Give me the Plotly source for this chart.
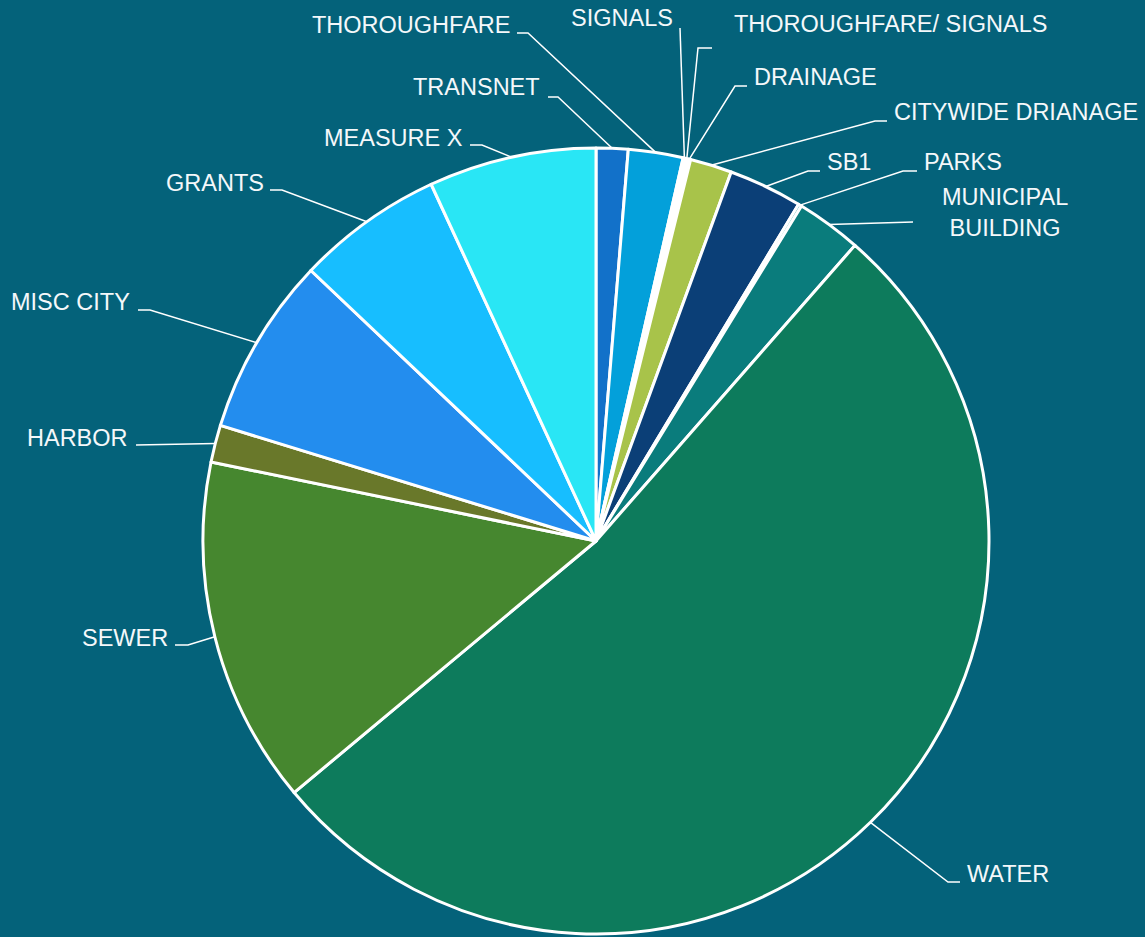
import math
import plotly.graph_objects as go

# ---- data (share of total, %) ----
categories = ["TRANSNET", "THOROUGHFARE", "SIGNALS", "THOROUGHFARE/ SIGNALS", "DRAINAGE",
              "CITYWIDE DRIANAGE", "SB1", "PARKS", "MUNICIPAL BUILDING", "WATER", "SEWER",
              "HARBOR", "MISC CITY", "GRANTS", "MEASURE X"]
values = [1.31, 2.25, 0.10, 0.10, 0.11, 1.72, 3.03, 0.14, 2.69, 52.50, 14.28,
          1.53, 7.33, 6.03, 6.89]
colors = ["#1271C9", "#03A0DA", "#1DBE8E", "#7FD3E6", "#8FD0B0", "#A8C34A", "#0B3F77",
          "#3FA7A0", "#0A7C7C", "#0D7B5C", "#46872F", "#69782A", "#238DEE", "#17BEFF", "#29E6F5"]

# ---- layout (pixel positions) ----
W, H = 1145, 937
CX, CY, R = 596, 541, 393
BG = "#04627A"

# label text position/anchor and leader elbow/end (pixels)
label_cfg = {
    "TRANSNET": dict(text="TRANSNET", x=542, y=87, xa="right", elbow=(558, 97), end=(548, 97)),
    "THOROUGHFARE": dict(text="THOROUGHFARE", x=512, y=25, xa="right", elbow=(528, 33), end=(517, 33)),
    "SIGNALS": dict(text="SIGNALS", x=675, y=18, xa="right", elbow=(680, 28), end=(680, 28)),
    "THOROUGHFARE/ SIGNALS": dict(text="THOROUGHFARE/ SIGNALS", x=732, y=24, xa="left", elbow=(698, 48), end=(712, 48)),
    "DRAINAGE": dict(text="DRAINAGE", x=752, y=77, xa="left", elbow=(735, 86), end=(747, 86)),
    "CITYWIDE DRIANAGE": dict(text="CITYWIDE DRIANAGE", x=892, y=112, xa="left", elbow=(875, 121), end=(887, 121)),
    "SB1": dict(text="SB1", x=825, y=162, xa="left", elbow=(808, 171), end=(820, 171)),
    "PARKS": dict(text="PARKS", x=922, y=162, xa="left", elbow=(903, 171), end=(917, 171)),
    "MUNICIPAL BUILDING": dict(text="MUNICIPAL<br>BUILDING", x=1005, y=212, xa="center", elbow=(913, 222), end=(913, 222)),
    "WATER": dict(text="WATER", x=965, y=874, xa="left", elbow=(948, 882), end=(960, 882)),
    "SEWER": dict(text="SEWER", x=170, y=638, xa="right", elbow=(188, 645), end=(175, 645)),
    "HARBOR": dict(text="HARBOR", x=130, y=438, xa="right", elbow=(136, 445), end=(136, 445)),
    "MISC CITY": dict(text="MISC CITY", x=132, y=302, xa="right", elbow=(150, 310), end=(138, 310)),
    "GRANTS": dict(text="GRANTS", x=266, y=183, xa="right", elbow=(282, 190), end=(270, 190)),
    "MEASURE X": dict(text="MEASURE X", x=465, y=138, xa="right", elbow=(482, 145), end=(470, 145)),
}

FONT = dict(family="Liberation Sans, Arial, sans-serif", size=23.5, color="#F4F8FA")

fig = go.Figure()

# hidden pixel-space axes for leader lines
fig.add_trace(go.Scatter(x=[0, W], y=[0, H], mode="markers", marker=dict(opacity=0),
                         hoverinfo="skip", showlegend=False))

fig.add_trace(go.Pie(
    labels=categories, values=values, sort=False, direction="clockwise", rotation=0,
    marker=dict(colors=colors, line=dict(color="#FFFFFF", width=3)),
    textinfo="none", hoverinfo="label+percent", showlegend=False,
    domain=dict(x=[(CX - R) / W, (CX + R) / W], y=[(H - CY - R) / H, (H - CY + R) / H]),
))

total = sum(values)
cum = 0.0
shapes = []
annotations = []
for cat, v in zip(categories, values):
    mid = (cum + v / 2) / total * 360.0
    cum += v
    th = math.radians(mid)
    px = CX + R * math.sin(th)
    py = CY - R * math.cos(th)
    cfg = label_cfg[cat]
    ex, ey = cfg["elbow"]
    nx, ny = cfg["end"]
    shapes.append(dict(type="path", xref="x", yref="y",
                       path=f"M {px:.1f},{py:.1f} L {ex},{ey} L {nx},{ny}",
                       line=dict(color="#FFFFFF", width=1.5), layer="above"))
    annotations.append(dict(text=cfg["text"], x=cfg["x"], y=cfg["y"], xref="x", yref="y",
                            xanchor=cfg["xa"], yanchor="middle", showarrow=False,
                            font=FONT, align="center"))

fig.update_layout(
    width=W, height=H, margin=dict(l=0, r=0, t=0, b=0),
    paper_bgcolor=BG, plot_bgcolor=BG,
    xaxis=dict(range=[0, W], visible=False, fixedrange=True, domain=[0, 1]),
    yaxis=dict(range=[H, 0], visible=False, fixedrange=True, domain=[0, 1]),
    shapes=shapes, annotations=annotations, showlegend=False,
)

fig.write_html("out.html", config={"displayModeBar": False},
               post_script="document.body.style.margin='0';document.body.style.overflow='hidden';document.body.style.background='" + BG + "';")
